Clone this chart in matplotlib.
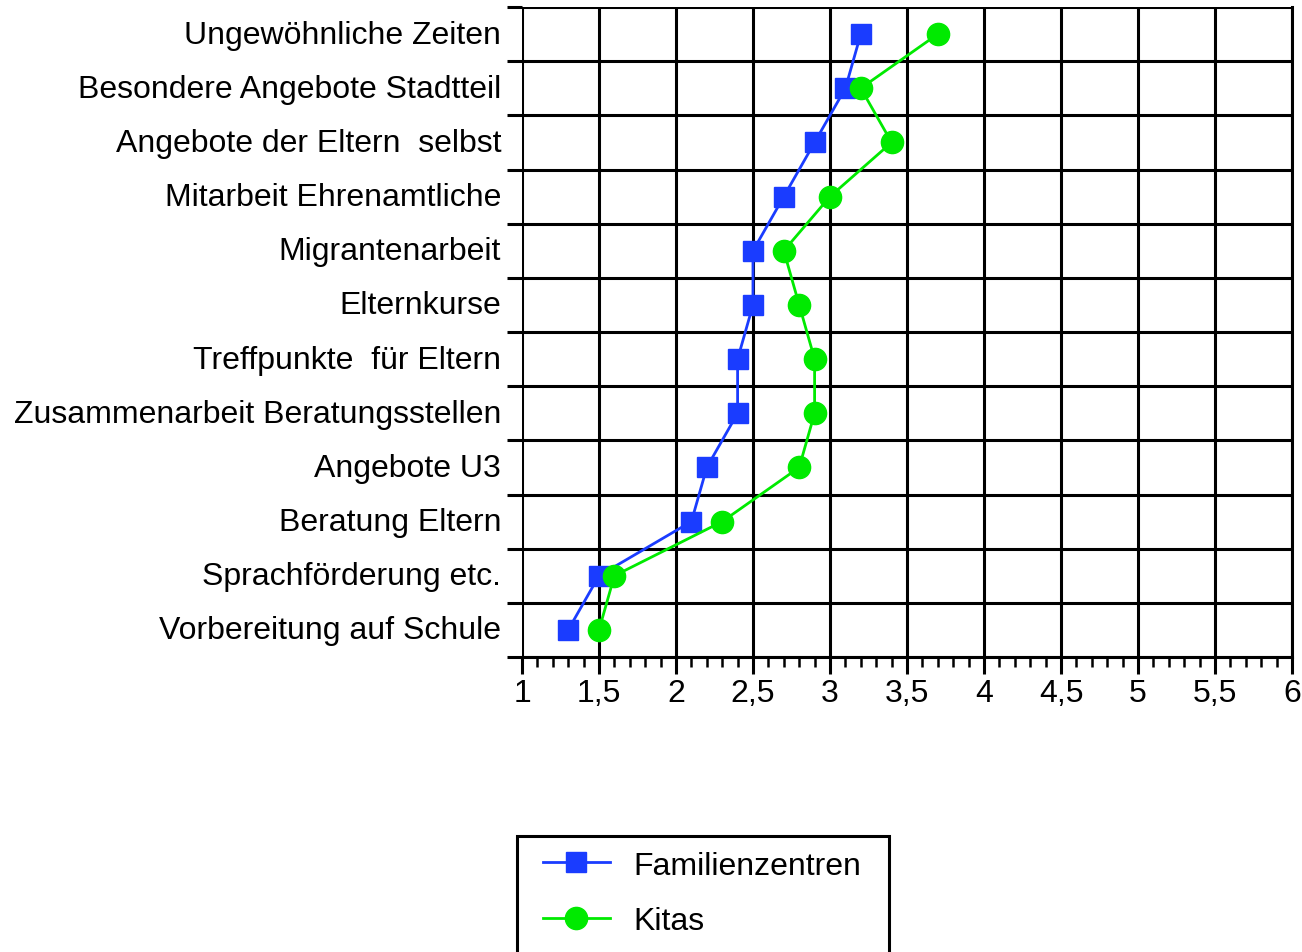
import matplotlib
matplotlib.use("Agg")
import matplotlib.pyplot as plt
import matplotlib.transforms as mtransforms
from matplotlib.patches import Rectangle
from matplotlib.ticker import MultipleLocator, FixedLocator, FuncFormatter
import numpy as np

# categories listed bottom to top
categories = [
    "Vorbereitung auf Schule",
    "Sprachförderung etc.",
    "Beratung Eltern",
    "Angebote U3",
    "Zusammenarbeit Beratungsstellen",
    "Treffpunkte  für Eltern",
    "Elternkurse",
    "Migrantenarbeit",
    "Mitarbeit Ehrenamtliche",
    "Angebote der Eltern  selbst",
    "Besondere Angebote Stadtteil",
    "Ungewöhnliche Zeiten",
]
familienzentren = [1.3, 1.5, 2.1, 2.2, 2.4, 2.4, 2.5, 2.5, 2.7, 2.9, 3.1, 3.2]
kitas = [1.5, 1.6, 2.3, 2.8, 2.9, 2.9, 2.8, 2.7, 3.0, 3.4, 3.2, 3.7]

BLUE = "#1a3cff"
GREEN = "#00ea00"
FS = 23

plt.rcParams["font.family"] = ["Liberation Sans", "DejaVu Sans"]

fig = plt.figure(figsize=(13.02, 9.53), dpi=100)
ax = fig.add_axes([522 / 1302, 1 - 658 / 953, 770 / 1302, 650 / 953])

y = np.arange(len(categories))
ax.plot(familienzentren, y, color=BLUE, lw=2, marker="s", ms=15,
        label="Familienzentren", zorder=3)
ax.plot(kitas, y, color=GREEN, lw=2, marker="o", ms=16,
        label="Kitas", zorder=4)

ax.set_xlim(1, 6)
ax.set_ylim(-0.5, len(categories) - 0.5)

# x axis: comma decimals, tenths as small ticks
ax.xaxis.set_major_locator(MultipleLocator(0.5))
ax.xaxis.set_minor_locator(MultipleLocator(0.1))
ax.xaxis.set_major_formatter(FuncFormatter(lambda v, p: f"{v:g}".replace(".", ",")))
ax.tick_params(axis="x", which="major", length=12, width=2.2, labelsize=FS, pad=3)
ax.tick_params(axis="x", which="minor", length=7, width=1.8)

# y axis: labels at centers, long ticks at row boundaries
ax.set_yticks(y)
ax.set_yticklabels(categories)
ax.yaxis.set_minor_locator(FixedLocator(np.arange(-0.5, len(categories), 1)))
ax.tick_params(axis="y", which="major", length=0, labelsize=FS, pad=15)
ax.tick_params(axis="y", which="minor", length=11, width=2.2)
lift = mtransforms.ScaledTranslation(0, 3 / 100, fig.dpi_scale_trans)
for lbl in ax.get_yticklabels():
    lbl.set_transform(lbl.get_transform() + lift)

ax.grid(axis="x", which="major", color="black", lw=2.2)
ax.grid(axis="y", which="minor", color="black", lw=2.2)
ax.set_axisbelow(True)
for side in ["top", "left"]:
    ax.spines[side].set_visible(False)
ax.spines["bottom"].set_linewidth(2.2)
ax.spines["right"].set_linewidth(2.2)

# legend box runs off the bottom edge of the figure
fig.patches.append(Rectangle((517 / 1302, -0.05), (889 - 517) / 1302, (953 - 837) / 953 + 0.05,
                             transform=fig.transFigure, fill=False, lw=2.2,
                             edgecolor="black"))
fig.legend(loc="upper left", bbox_to_anchor=(517 / 1302, 1 - 826 / 953),
           fontsize=FS, frameon=False, borderpad=0.8, handlelength=2.1,
           handletextpad=0.75, labelspacing=0.8, borderaxespad=0)

fig.savefig("out.png", dpi=100)
